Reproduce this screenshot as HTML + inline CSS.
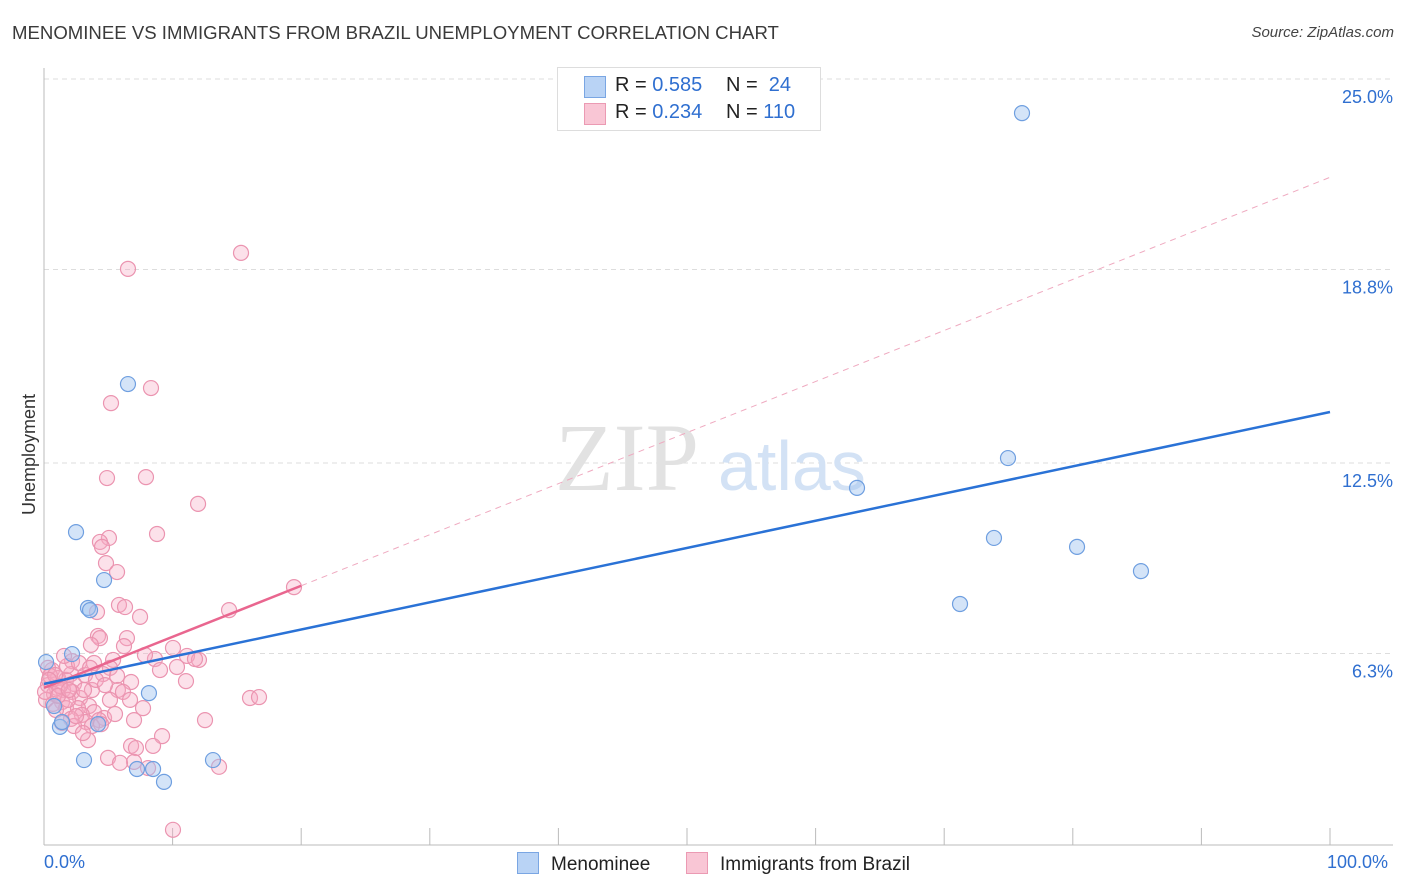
<!DOCTYPE html>
<html><head><meta charset="utf-8"><style>
body{margin:0;background:#fff;font-family:"Liberation Sans",sans-serif;}
#wrap{position:relative;width:1406px;height:892px;overflow:hidden;}
.t{position:absolute;white-space:nowrap;}
</style></head><body>
<div id="wrap">
<div class="t" style="left:12px;top:22px;font-size:18.6px;color:#3a3a3a;">MENOMINEE VS IMMIGRANTS FROM BRAZIL UNEMPLOYMENT CORRELATION CHART</div>
<div class="t" style="right:12px;top:24px;font-size:15px;color:#444;font-style:italic;">Source: ZipAtlas.com</div>
<svg id="svg" width="1406" height="892" style="position:absolute;left:0;top:0"></svg>
<div class="t" style="left:557px;top:67px;width:262px;height:62px;border:1px solid #ddd;background:#fff;font-size:20px;color:#222;">
 <div style="position:absolute;left:26px;top:8px;width:20px;height:20px;background:#b9d3f5;border:1px solid #7aa6e3"></div>
 <div style="position:absolute;left:57px;top:6px">R = <span style="color:#2f6fd0">0.585</span></div>
 <div style="position:absolute;left:168px;top:6px">N = &nbsp;<span style="color:#2f6fd0">24</span></div>
 <div style="position:absolute;left:26px;top:35px;width:20px;height:20px;background:#f9c6d5;border:1px solid #eb9ab3"></div>
 <div style="position:absolute;left:57px;top:33px">R = <span style="color:#2f6fd0">0.234</span></div>
 <div style="position:absolute;left:168px;top:33px">N = <span style="color:#2f6fd0">110</span></div>
</div>
<div class="t" style="left:-31px;top:444px;font-size:18px;color:#333;transform:rotate(-90deg);">Unemployment</div>
<div class="t" style="left:44px;top:852px;font-size:18px;color:#2f6fd0;">0.0%</div>
<div class="t" style="left:1327px;top:852px;font-size:18px;color:#2f6fd0;">100.0%</div>
<div class="t" style="left:517px;top:852px;font-size:19px;color:#222;"><span style="display:inline-block;width:20px;height:20px;background:#b9d3f5;border:1px solid #7aa6e3;vertical-align:-4px;margin-right:12px"></span>Menominee</div>
<div class="t" style="left:686px;top:852px;font-size:19px;color:#222;"><span style="display:inline-block;width:20px;height:20px;background:#f9c6d5;border:1px solid #eb9ab3;vertical-align:-4px;margin-right:12px"></span>Immigrants from Brazil</div>
</div>
<script>
const yTicks=[25.0,18.8,12.5,6.3];
const yTickLabels=["25.0%","18.8%","12.5%","6.3%"];
const blueX=[76.05,6.53,74.96,63.22,2.49,73.87,80.33,85.30,4.67,3.42,3.58,71.23,2.18,0.16,8.16,0.78,1.24,1.40,3.11,4.20,13.14,7.23,8.48,9.33];
const blueY=[23.89,15.07,12.66,11.69,10.25,10.06,9.77,8.98,8.69,7.78,7.71,7.91,6.28,6.02,5.01,4.59,3.91,4.07,2.83,4.00,2.83,2.54,2.54,2.12];
const pinkX=[15.32,6.53,8.32,5.21,4.90,7.93,11.98,8.79,5.05,4.35,4.51,4.82,5.68,19.44,5.83,6.30,4.12,14.39,7.47,4.20,6.45,4.35,3.65,6.22,8.63,10.03,7.85,11.12,12.05,11.74,5.37,2.18,3.89,5.13,10.34,0.62,2.10,4.59,5.68,11.04,6.77,9.02,1.09,1.71,3.19,2.33,0.31,1.01,1.48,3.73,5.75,6.14,0.78,2.18,2.80,16.02,16.72,6.69,0.16,1.40,0.70,3.50,1.71,2.64,7.70,0.93,3.89,2.95,4.67,2.10,4.28,7.00,12.52,3.27,2.33,3.73,1.40,4.43,3.42,9.18,6.77,8.48,7.15,4.98,7.00,5.91,8.09,13.61,10.03,0.31,0.47,1.24,0.08,1.87,2.49,5.52,1.09,3.11,4.04,5.13,1.79,2.72,1.56,0.86,0.39,3.58,4.74,1.94,3.03];
const pinkY=[19.34,18.82,14.94,14.45,12.01,12.04,11.17,10.19,10.06,9.93,9.77,9.24,8.95,8.46,7.88,7.81,7.65,7.71,7.49,6.87,6.80,6.80,6.58,6.54,6.12,6.48,6.25,6.22,6.09,6.12,6.09,6.05,5.99,5.83,5.86,5.76,5.63,5.63,5.57,5.40,5.37,5.76,5.50,5.44,5.60,5.31,5.27,5.18,5.11,5.11,5.11,5.05,4.98,5.05,4.85,4.85,4.88,4.79,4.79,4.72,4.66,4.59,4.52,4.52,4.52,4.46,4.39,4.30,4.20,4.17,4.13,4.13,4.13,4.07,3.94,3.94,4.04,4.00,3.48,3.61,3.29,3.29,3.22,2.90,2.77,2.74,2.57,2.61,0.56,5.83,5.57,5.24,5.05,4.79,4.26,4.33,4.92,5.11,5.44,4.79,5.89,5.99,6.22,5.60,5.44,5.83,5.27,5.11,3.71];
const blueFit=[5.31,14.16];
const pinkFit=[5.18,21.8];
const pinkSolidEnd=20;
const xs=v=>44+v*12.86, ys=v=>655-(v-6.25)*30.72;
const svg=document.getElementById('svg');const NS='http://www.w3.org/2000/svg';
function mk(t,a){const e=document.createElementNS(NS,t);for(const k in a)e.setAttribute(k,a[k]);svg.appendChild(e);return e;}
yTicks.forEach((v,i)=>{
 const g=mk('line',{x1:44,x2:1393,y1:ys(v),y2:ys(v),stroke:'#ddd','stroke-dasharray':'5,4'});
 
 
 const t=mk('text',{x:1393,y:ys(v)+24,'text-anchor':'end','font-size':18,fill:'#2f6fd0','font-family':'Liberation Sans'});
 t.textContent=yTickLabels[i];
 
 
});
let ax=mk('line',{x1:44,x2:44,y1:68,y2:845,stroke:'#bbb'});


let bx=mk('line',{x1:44,x2:1393,y1:845,y2:845,stroke:'#bbb'});


for(let i=0;i<=10;i++){const k=mk('line',{x1:xs(i*10),x2:xs(i*10),y1:828,y2:845,stroke:'#bbb'});
 
 }
let w1=mk('text',{x:555,y:490,'font-size':96,fill:'#e2e2e2','font-family':'Liberation Serif'});w1.textContent='ZIP';


let w2=mk('text',{x:718,y:490,'font-size':70,fill:'#d3e2f5','font-family':'Liberation Sans'});w2.textContent='atlas';


pinkX.forEach((x,i)=>{const c=mk('circle',{cx:xs(x),cy:ys(pinkY[i]),r:7.5,fill:'rgba(247,170,195,0.35)',stroke:'#eb94b0','stroke-width':1.2});
 
 });
blueX.forEach((x,i)=>{const c=mk('circle',{cx:xs(x),cy:ys(blueY[i]),r:7.5,fill:'rgba(160,195,240,0.45)',stroke:'#6f9fe0','stroke-width':1.2});
 
 });
const pAt=x=>pinkFit[0]+(pinkFit[1]-pinkFit[0])*x/100;
let pd=mk('line',{x1:xs(pinkSolidEnd),y1:ys(pAt(pinkSolidEnd)),x2:xs(100),y2:ys(pinkFit[1]),stroke:'#efaac0','stroke-width':1,'stroke-dasharray':'6,5'});


let ps=mk('line',{x1:xs(0),y1:ys(pinkFit[0]),x2:xs(pinkSolidEnd),y2:ys(pAt(pinkSolidEnd)),stroke:'#e9668f','stroke-width':2.5});


let bl=mk('line',{x1:xs(0),y1:ys(blueFit[0]),x2:xs(100),y2:ys(blueFit[1]),stroke:'#2a72d6','stroke-width':2.5});


</script>
</body></html>
